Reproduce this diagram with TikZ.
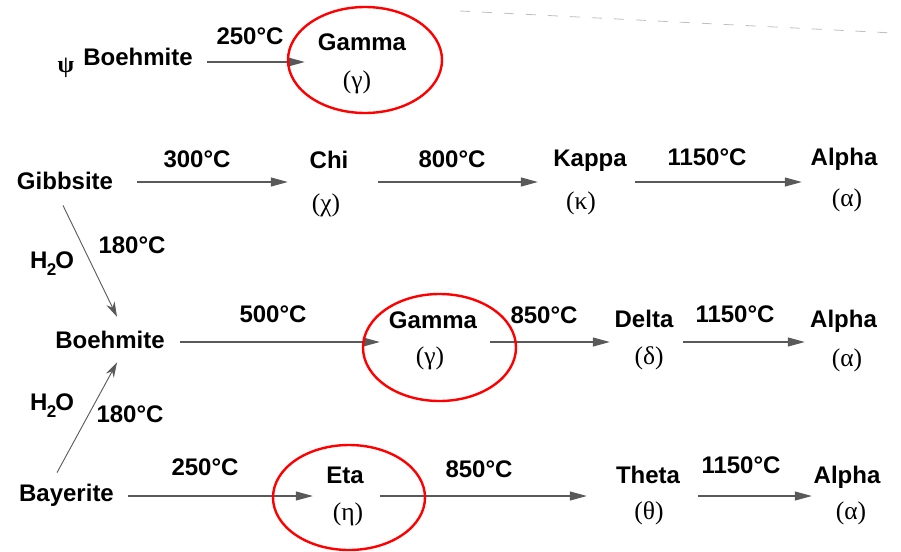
\documentclass[tikz,border=0pt]{standalone}
\usepackage{fontspec}
\setmainfont{Liberation Sans}
\newfontfamily\grkfont{Liberation Serif}
\usetikzlibrary{arrows.meta}
\begin{document}
\begin{tikzpicture}[x=1pt,y=-1pt,
  txt/.style={anchor=base,inner sep=0pt,font=\fontsize{24}{28}\selectfont\bfseries},
  grk/.style={anchor=base,inner sep=0pt,font=\grkfont\fontsize{25.5}{28}\selectfont},
  arr/.style={draw=black!65,line width=1.1pt,-{Triangle[length=17pt,width=9pt]}},
  darr/.style={draw=black!65,line width=0.9pt,-{Stealth[length=15pt,width=9pt]}},
  ring/.style={draw=red,line width=2.4pt},
  scanline/.style={draw=black!25,line width=0.8pt,dash pattern=on 10pt off 12pt}]
\useasboundingbox (0,0) rectangle (901,551);
\fill[white] (0,0) rectangle (901,551);

% row coordinates
\coordinate (r0) at (0,62);
\coordinate (r1) at (0,182);
\coordinate (r2) at (0,342);
\coordinate (r3) at (0,496);

% faint scan line at top
\coordinate (s1) at (460,11);
\coordinate (s2) at (893,33);
\draw[scanline] (s1) -- (s2);

% row 0
\node[anchor=base,inner sep=0pt,font=\grkfont\fontsize{24}{26}\selectfont\bfseries] (psi) at (66,72) {ψ};
\node[txt] (boe0) at (138,65) {Boehmite};
\node[txt] (t0) at (250,45) {250°C};
\node[txt] (gam0) at (362,50) {Gamma};
\node[grk] (gam0g) at (357,88) {(γ)};

% row 1
\node[txt] (gib) at (65,189) {Gibbsite};
\node[txt] (t300) at (197,167) {300°C};
\node[txt] (chi) at (329,168) {Chi};
\node[grk] (chig) at (326,211) {(χ)};
\node[txt] (t800) at (452,167) {800°C};
\node[txt] (kap) at (590,166) {Kappa};
\node[grk] (kapg) at (581,209) {(κ)};
\node[txt] (t1150a) at (707,165) {1150°C};
\node[txt] (alp1) at (844,165) {Alpha};
\node[grk] (alp1g) at (847,206) {(α)};

% row 2
\node[txt] (boe) at (110,348) {Boehmite};
\node[txt] (t500) at (273,322) {500°C};
\node[txt] (gam) at (433,328) {Gamma};
\node[grk] (gamg) at (430,364) {(γ)};
\node[txt] (t850a) at (544,323) {850°C};
\node[txt] (del) at (644,327) {Delta};
\node[grk] (delg) at (649,364) {(δ)};
\node[txt] (t1150b) at (735,322) {1150°C};
\node[txt] (alp2) at (843.5,327) {Alpha};
\node[grk] (alp2g) at (847,366) {(α)};

% row 3
\node[txt] (bay) at (66.5,501) {Bayerite};
\node[txt] (t250) at (205,475) {250°C};
\node[txt] (eta) at (345,483) {Eta};
\node[grk] (etag) at (348,520) {(η)};
\node[txt] (t850b) at (479,477) {850°C};
\node[txt] (the) at (648,483) {Theta};
\node[grk] (theg) at (649,519) {(θ)};
\node[txt] (t1150c) at (741,473) {1150°C};
\node[txt] (alp3) at (847,483) {Alpha};
\node[grk] (alp3g) at (851,519) {(α)};

% diagonal labels
\node[txt] (h2oa) at (52,268) {H\kern-0.5pt\raisebox{-7pt}{\fontsize{17}{17}\selectfont 2}\kern-1pt O};
\node[txt] (t180a) at (132,253) {180°C};
\node[txt] (h2ob) at (52,410) {H\kern-0.5pt\raisebox{-7pt}{\fontsize{17}{17}\selectfont 2}\kern-1pt O};
\node[txt] (t180b) at (130,422) {180°C};

% horizontal arrows
\draw[arr,shorten <=14.3pt,shorten >=13pt] (boe0.east|-r0) -- (gam0.west|-r0);

\draw[arr,shorten <=24pt,shorten >=21.7pt] (gib.east|-r1) -- (chi.west|-r1);
\draw[arr,shorten <=29.7pt,shorten >=15.3pt] (chi.east|-r1) -- (kap.west|-r1);
\draw[arr,shorten <=8.3pt,shorten >=8.7pt] (kap.east|-r1) -- (alp1.west|-r1);

\draw[arr,shorten <=15.3pt,shorten >=9pt] (boe.east|-r2) -- (gam.west|-r2);
\draw[arr,shorten <=13pt,shorten >=4.7pt] (gam.east|-r2) -- (del.west|-r2);
\draw[arr,shorten <=9.7pt,shorten >=5.2pt] (del.east|-r2) -- (alp2.west|-r2);

\draw[arr,shorten <=14.1pt,shorten >=13.3pt] (bay.east|-r3) -- (eta.west|-r3);
\draw[arr,shorten <=16.3pt,shorten >=29pt] (eta.east|-r3) -- (the.west|-r3);
\draw[arr,shorten <=18pt,shorten >=1.7pt] (the.east|-r3) -- (alp3.west|-r3);

% diagonal arrows
\draw[darr] ([shift={(-2,16)}]gib.south) -- ([shift={(7,-13.6)}]boe.north);
\draw[darr] ([shift={(-9.5,-10.8)}]bay.north) -- ([shift={(7,14)}]boe.south);

% red rings
\draw[ring] (365,60) ellipse [x radius=77pt, y radius=53pt];
\draw[ring] (439.5,347.5) ellipse [x radius=76.5pt, y radius=53.5pt];
\draw[ring] (349,497.5) ellipse [x radius=76pt, y radius=52.5pt];
\end{tikzpicture}
\end{document}
